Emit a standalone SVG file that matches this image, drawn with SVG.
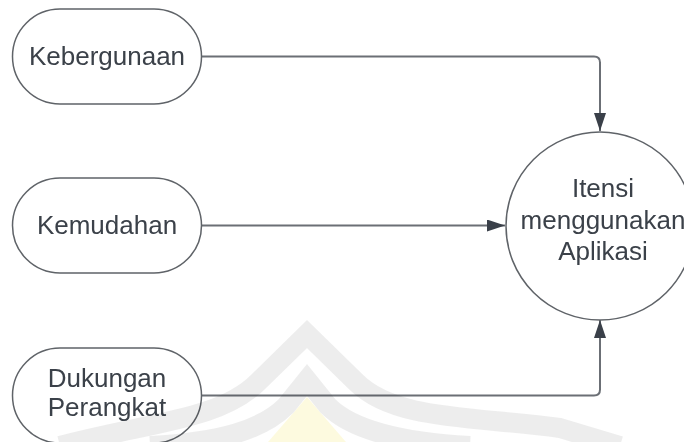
<svg xmlns="http://www.w3.org/2000/svg" width="684" height="442" viewBox="0 0 684 442">
  <defs>
    <marker id="arrow" viewBox="0 0 18 12" refX="18" refY="6" markerWidth="18" markerHeight="12" markerUnits="userSpaceOnUse" orient="auto">
      <path d="M0,0 L18,6 L0,12 Z" fill="#3a4049"/>
    </marker>
    <style>
      .node { fill: #ffffff; stroke: #5f6368; stroke-width: 1.5; }
      .label { font-family: "Liberation Sans", Arial, sans-serif; font-size: 26px; fill: #3b4149; text-anchor: middle; }
      .conn { fill: none; stroke: #6b6f75; stroke-width: 2; marker-end: url(#arrow); }
      .wm { fill: none; stroke: #dcdcdc; stroke-width: 20; stroke-linejoin: miter; }
    </style>
  </defs>
  <rect width="684" height="442" fill="#ffffff"/>

  <g id="connectors">
    <path class="conn" d="M202 56.5 H594 Q600 56.5 600 62.5 V131"/>
    <path class="conn" d="M202 225.5 H505"/>
    <path class="conn" d="M202 395.5 H594 Q600 395.5 600 389.5 V320"/>
  </g>

  <g id="node-kebergunaan">
    <rect class="node" x="12.5" y="9" width="189" height="95" rx="47.5"/>
    <text class="label" x="107" y="65">Kebergunaan</text>
  </g>
  <g id="node-kemudahan">
    <rect class="node" x="12.5" y="178" width="189" height="95" rx="47.5"/>
    <text class="label" x="107" y="234">Kemudahan</text>
  </g>
  <g id="node-dukungan">
    <rect class="node" x="12.5" y="348" width="189" height="95" rx="47.5"/>
    <text class="label" x="107" y="387">Dukungan</text>
    <text class="label" x="107" y="416">Perangkat</text>
  </g>
  <g id="node-itensi">
    <circle class="node" cx="600" cy="226" r="94"/>
    <text class="label" x="603" y="197">Itensi</text>
    <text class="label" x="603" y="228.5">menggunakan</text>
    <text class="label" x="603" y="260">Aplikasi</text>
  </g>

  <g id="watermark" opacity="0.5" style="mix-blend-mode:multiply">
    <path d="M307 397 L268 442 L346 442 Z" fill="#fcf5c0"/>
    <path class="wm" d="M60 446 C150 422 220 420 258 382 L307 334 L356 382 C394 420 470 416 560 428 L620 446"/>
    <path class="wm" d="M150 446 C220 442 262 430 286 406 L307 380 L328 406 C352 430 400 442 470 446"/>
  </g>
</svg>
